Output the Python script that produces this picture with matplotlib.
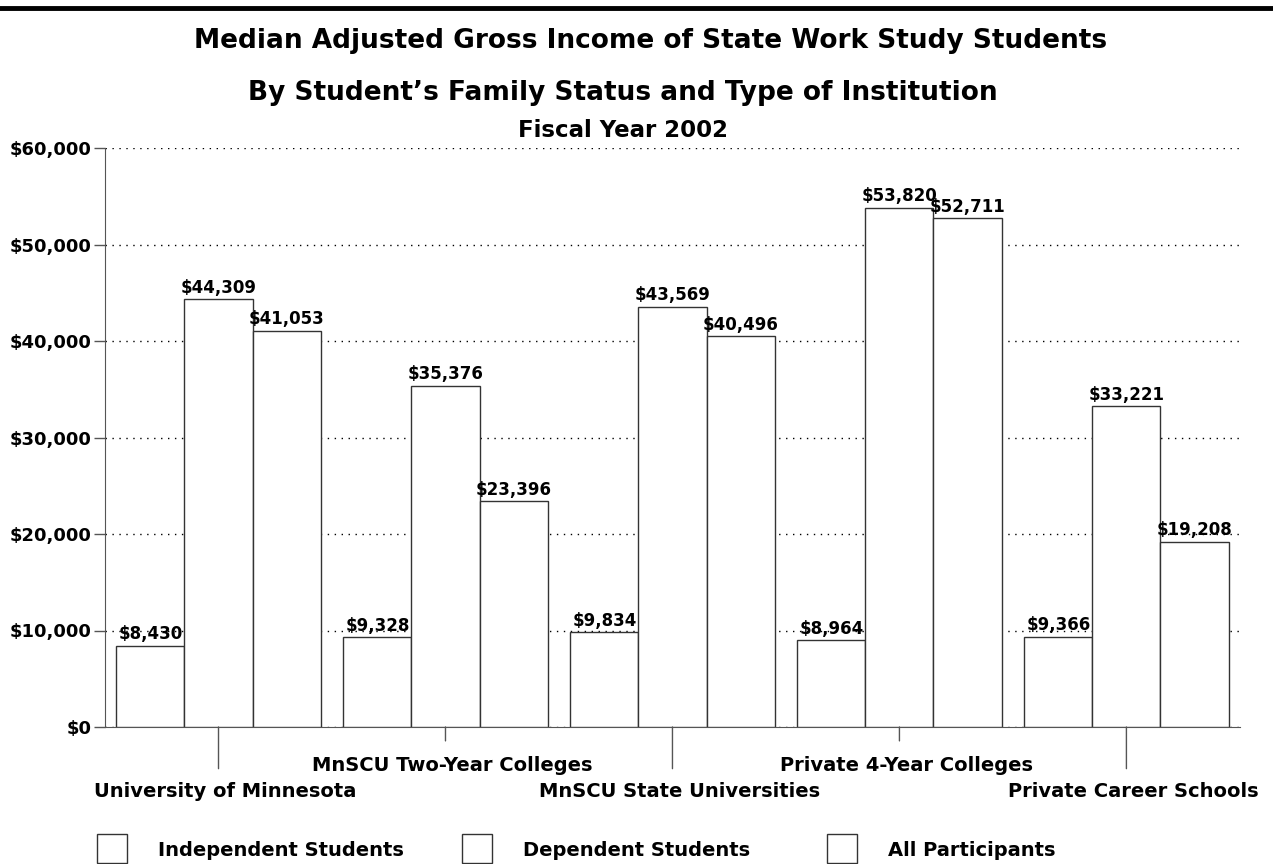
import matplotlib
matplotlib.use("Agg")
import matplotlib.pyplot as plt
from matplotlib.patches import Rectangle
import numpy as np

institutions = ["University of Minnesota", "MnSCU Two-Year Colleges", "MnSCU State Universities",
                "Private 4-Year Colleges", "Private Career Schools"]
series_names = ["Independent Students", "Dependent Students", "All Participants"]
independent = [8430, 9328, 9834, 8964, 9366]
dependent = [44309, 35376, 43569, 53820, 33221]
all_participants = [41053, 23396, 40496, 52711, 19208]
series_values = [independent, dependent, all_participants]
y_ticks = [0, 10000, 20000, 30000, 40000, 50000, 60000]

plt.rcParams['font.family'] = ['DejaVu Sans']
plt.rcParams['font.weight'] = 'bold'

W, H = 1273, 864
fig = plt.figure(figsize=(12.73, 8.64), dpi=100)
ax = fig.add_axes([0.0825, 1 - 727 / H, 0.974 - 0.0825, (727 - 148) / H])

x = np.arange(len(institutions))
w = 0.3
for i, vals in enumerate(series_values):
    pos = x + (i - 1) * w
    ax.bar(pos, vals, width=w, facecolor='white', edgecolor='#333333', linewidth=1.0, zorder=3)
    for p, v in zip(pos, vals):
        ax.text(p, v + 250, f"${v:,}", ha='center', va='bottom', fontsize=12, fontweight='bold', zorder=4)

ax.set_xlim(-0.5, len(institutions) - 0.5)
ax.set_ylim(0, 60000)
ax.set_yticks(y_ticks)
ax.set_yticklabels([f"${t:,}" for t in y_ticks], fontsize=13, fontweight='bold')
ax.yaxis.grid(True, linestyle=(0, (1, 4)), color='black', linewidth=1.0, zorder=0)
ax.set_axisbelow(True)
for s in ['top', 'right']:
    ax.spines[s].set_visible(False)
ax.spines['left'].set_color('#555555')
ax.spines['bottom'].set_color('#555555')
ax.tick_params(axis='y', length=8, width=1, color='#555555', pad=2)

# category labels with alternating tick lengths
ax.set_xticks(x)
ax.set_xticklabels([])
ax.tick_params(axis='x', length=0)
for i, name in enumerate(institutions):
    long = (i % 2 == 0)
    L = 30 if long else 10
    ax.annotate('', xy=(i, 0), xycoords='data', xytext=(0, -L), textcoords='offset points',
                arrowprops=dict(arrowstyle='-', color='#555555', lw=1.0, shrinkA=0, shrinkB=0),
                annotation_clip=False)
    ax.annotate(name, xy=(i, 0), xycoords='data', xytext=(5, -50.4 if long else -31.7),
                textcoords='offset points', ha='center', va='baseline', fontsize=14, fontweight='bold',
                annotation_clip=False)

# titles
fig.text(651 / W, 1 - 48 / H, "Median Adjusted Gross Income of State Work Study Students",
         ha='center', va='baseline', fontsize=19, fontweight='bold')
fig.text(623 / W, 1 - 100 / H, "By Student\u2019s Family Status and Type of Institution",
         ha='center', va='baseline', fontsize=19, fontweight='bold')
fig.text(623 / W, 1 - 137 / H, "Fiscal Year 2002",
         ha='center', va='baseline', fontsize=16.5, fontweight='bold')

# top border
fig.add_artist(plt.Line2D([0, 1], [1 - 8 / H, 1 - 8 / H], color='black', linewidth=3.5))

# legend
leg_x = [97, 462, 827]
for lx, name in zip(leg_x, series_names):
    fig.add_artist(Rectangle((lx / W, 1 - 863 / H), 30 / W, 29 / H, transform=fig.transFigure,
                             facecolor='white', edgecolor='#333333', linewidth=1.0))
    fig.text((lx + 61) / W, 1 - 856 / H, name, ha='left', va='baseline', fontsize=14, fontweight='bold')

fig.savefig("out.png", dpi=100)
